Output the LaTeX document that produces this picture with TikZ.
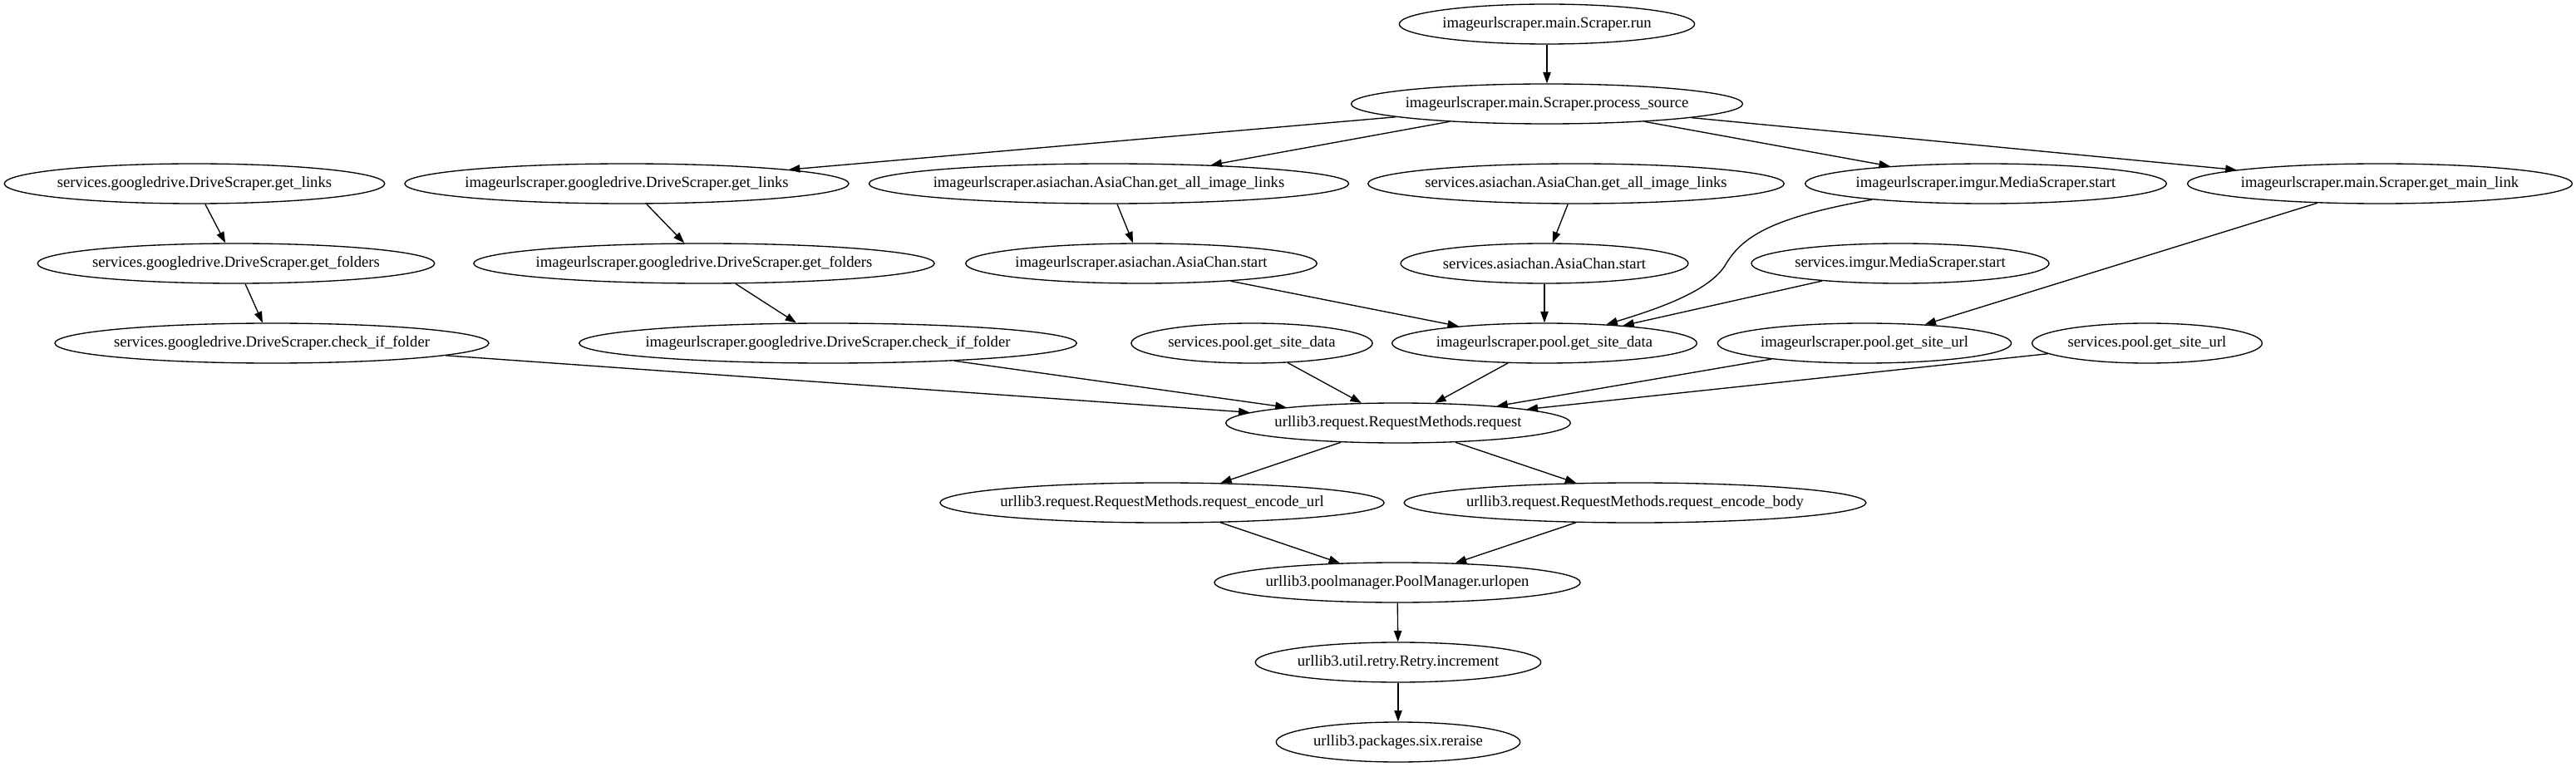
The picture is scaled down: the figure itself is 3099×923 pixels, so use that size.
\documentclass[tikz,border=0pt]{standalone}
\usepackage{fontspec}
\setmainfont{Liberation Serif}
\usepackage{tikz}
\usetikzlibrary{shapes.geometric,arrows.meta}
\newcommand{\rowy}[1]{29+96*#1}
\newcommand{\fnnode}[4]{\node[fn] (#1) at (#2,{\rowy{#3}}) {#4};}
\newcommand{\calls}[2]{\draw[call] (#1) -- (#2);}

\begin{document}
\begin{tikzpicture}[x=0.75pt,y=-0.75pt,
	fn/.style={draw,ellipse,line width=1pt,minimum height=36pt,inner ysep=0pt,
		inner xsep={7.78pt-0.0415*\wd\pgfnodeparttextbox},font=\fontsize{14pt}{16pt}\selectfont},
	call/.style={-{Triangle[length=10pt,width=7pt]},line width=1pt}]
	\useasboundingbox (0,0) rectangle (3099,923);
	
	\fnnode{run}{1861}{0}{imageurlscraper.main.Scraper.run}
	\fnnode{procSrc}{1861}{1}{imageurlscraper.main.Scraper.process\_source}
	
	\fnnode{sGdLinks}{234}{2}{services.googledrive.DriveScraper.get\_links}
	\fnnode{iGdLinks}{754}{2}{imageurlscraper.googledrive.DriveScraper.get\_links}
	\fnnode{iAcLinks}{1334}{2}{imageurlscraper.asiachan.AsiaChan.get\_all\_image\_links}
	\fnnode{sAcLinks}{1896}{2}{services.asiachan.AsiaChan.get\_all\_image\_links}
	\fnnode{iImgur}{2389}{2}{imageurlscraper.imgur.MediaScraper.start}
	\fnnode{iMainLink}{2863}{2}{imageurlscraper.main.Scraper.get\_main\_link}
	
	\fnnode{sGdFolders}{284}{3}{services.googledrive.DriveScraper.get\_folders}
	\fnnode{iGdFolders}{847}{3}{imageurlscraper.googledrive.DriveScraper.get\_folders}
	\fnnode{iAcStart}{1373}{3}{imageurlscraper.asiachan.AsiaChan.start}
	\fnnode{sAcStart}{1858}{3}{services.asiachan.AsiaChan.start}
	\fnnode{sImgur}{2286}{3}{services.imgur.MediaScraper.start}
	
	\fnnode{sGdCheck}{327}{4}{services.googledrive.DriveScraper.check\_if\_folder}
	\fnnode{iGdCheck}{996}{4}{imageurlscraper.googledrive.DriveScraper.check\_if\_folder}
	\fnnode{sPoolData}{1506}{4}{services.pool.get\_site\_data}
	\fnnode{iPoolData}{1858}{4}{imageurlscraper.pool.get\_site\_data}
	\fnnode{iPoolUrl}{2243}{4}{imageurlscraper.pool.get\_site\_url}
	\fnnode{sPoolUrl}{2583}{4}{services.pool.get\_site\_url}
	
	\fnnode{request}{1682}{5}{urllib3.request.RequestMethods.request}
	\fnnode{encUrl}{1398}{6}{urllib3.request.RequestMethods.request\_encode\_url}
	\fnnode{encBody}{1967}{6}{urllib3.request.RequestMethods.request\_encode\_body}
	\fnnode{urlopen}{1681}{7}{urllib3.poolmanager.PoolManager.urlopen}
	\fnnode{increment}{1682}{8}{urllib3.util.retry.Retry.increment}
	\fnnode{reraise}{1682}{9}{urllib3.packages.six.reraise}
	
	\calls{run}{procSrc}
	\calls{procSrc}{iGdLinks}
	\calls{procSrc}{iAcLinks}
	\calls{procSrc}{iImgur}
	\calls{procSrc}{iMainLink}
	
	\calls{sGdLinks}{sGdFolders}
	\calls{sGdFolders}{sGdCheck}
	\calls{iGdLinks}{iGdFolders}
	\calls{iGdFolders}{iGdCheck}
	\calls{iAcLinks}{iAcStart}
	\calls{sAcLinks}{sAcStart}
	
	\calls{iAcStart}{iPoolData}
	\calls{sAcStart}{iPoolData}
	\calls{sImgur}{iPoolData}
	\draw[call] (iImgur.188) .. controls (2130,262) and (2095,285) .. (2075,320) .. controls (2055,350) and (2000,370) .. (iPoolData);
	\calls{iMainLink}{iPoolUrl}
	
	\calls{sGdCheck}{request}
	\calls{iGdCheck}{request}
	\calls{sPoolData}{request}
	\calls{iPoolData}{request}
	\calls{iPoolUrl}{request}
	\calls{sPoolUrl}{request}
	
	\calls{request}{encUrl}
	\calls{request}{encBody}
	\calls{encUrl}{urlopen}
	\calls{encBody}{urlopen}
	\calls{urlopen}{increment}
	\calls{increment}{reraise}
\end{tikzpicture}
\end{document}
